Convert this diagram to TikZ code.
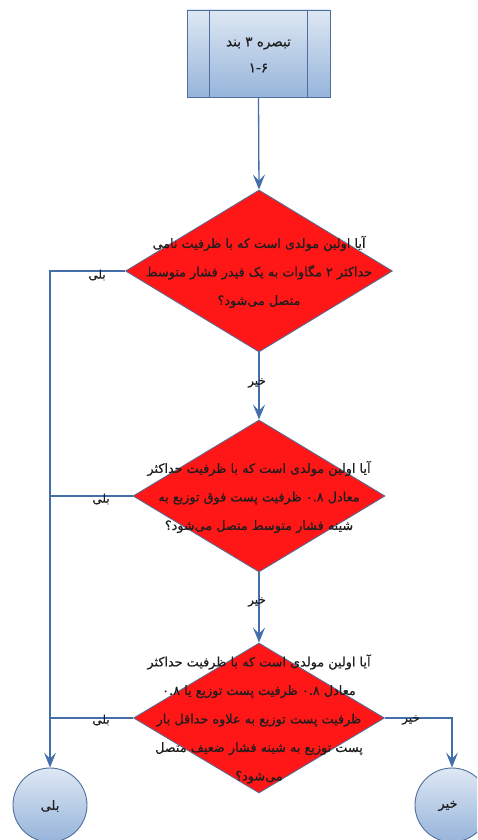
\documentclass[tikz,border=0pt]{standalone}
\usepackage{fontspec}
\usetikzlibrary{shapes.geometric,arrows.meta,calc}
\newfontfamily\arabicfont[Script=Arabic,FakeBold=0.6]{DejaVu Sans}
\TeXXeTstate=1
\newcommand{\persline}[1]{\beginR #1\endR}
\definecolor{connblue}{RGB}{68,110,170}
\definecolor{outlineblue}{RGB}{80,110,155}
\definecolor{diared}{RGB}{255,22,22}
\definecolor{boxtop}{RGB}{222,232,244}
\definecolor{boxbot}{RGB}{150,180,218}
\definecolor{textgray}{RGB}{30,30,30}
\begin{document}
\begin{tikzpicture}[x=1pt,y=-1pt,
  conn/.style={draw=connblue, line width=1.3pt},
  arr/.style={conn, -{Stealth[length=15pt,width=12pt,inset=6pt]}},
  dia/.style={diamond, draw=outlineblue, fill=diared, line width=0.8pt, inner sep=0pt},
  blueshape/.style={draw=outlineblue, line width=0.9pt, top color=boxtop, bottom color=boxbot},
  txt/.style={align=center, text=textgray, font=\arabicfont\fontsize{12.8}{28.5}\selectfont},
  lab/.style={text=textgray, font=\arabicfont\fontsize{12}{13}\selectfont, inner sep=1pt}
]
\useasboundingbox (0,0) rectangle (477,840);
\clip (0,0) rectangle (477,840);

% top box
\node[blueshape, rectangle, minimum width=143pt, minimum height=87pt, inner sep=0pt] (box) at (258.5,53.5) {};
\draw[outlineblue, line width=0.9pt] ($(box.north west)+(23,0)$) -- ($(box.south west)+(23,0)$);
\draw[outlineblue, line width=0.9pt] ($(box.north east)+(-23,0)$) -- ($(box.south east)+(-23,0)$);
\node[txt, font=\arabicfont\fontsize{13.5}{26}\selectfont] (boxt) at (258.5,55) {\persline{تبصره ۳ بند}\\ \beginL\mbox{۱}\mbox{-}\mbox{۶}\endL};

% diamonds
\node[dia, minimum width=267pt, minimum height=162pt] (d1) at (259,271) {};
\node[txt] (t1) at (259,272) {\persline{آیا اولین مولدی است که با ظرفیت نامی}\\
  \persline{حداکثر ۲ مگاوات به یک فیدر فشار متوسط}\\
  \persline{متصل می‌شود؟}};

\node[dia, minimum width=252pt, minimum height=152pt] (d2) at (259,496) {};
\node[txt] (t2) at (259,497) {\persline{آیا اولین مولدی است که با ظرفیت حداکثر}\\
  \persline{معادل ۰.۸ ظرفیت پست فوق توزیع به}\\
  \persline{شینه فشار متوسط متصل می‌شود؟}};

\node[dia, minimum width=251pt, minimum height=150pt] (d3) at (259,718) {};
\node[txt] (t3) at (259,719) {\persline{آیا اولین مولدی است که با ظرفیت حداکثر}\\
  \persline{معادل ۰.۸ ظرفیت پست توزیع یا ۰.۸}\\
  \persline{ظرفیت پست توزیع به علاوه حداقل بار}\\
  \persline{پست توزیع به شینه فشار ضعیف متصل}\\
  \persline{می‌شود؟}};

% terminal circles
\node[blueshape, circle, minimum size=74pt, inner sep=0pt] (c1) at (50,805) {};
\node[lab, font=\arabicfont\fontsize{13}{14}\selectfont] (c1t) at (50,806) {\persline{بلی}};
\node[blueshape, circle, minimum size=74pt, inner sep=0pt] (c2) at (452,805) {};
\node[lab, font=\arabicfont\fontsize{13}{14}\selectfont] (c2t) at (448,806) {\persline{خیر}};

% connectors
\draw[arr] (box.south) -- (d1.north);
\draw[arr] (d1.south) -- (d2.north);
\draw[arr] (d2.south) -- (d3.north);
\draw[arr] (d1.west) -| (c1.north);
\draw[conn] (d2.west) -- (d2.west -| c1.north);
\draw[conn] (d3.west) -- (d3.west -| c1.north);
\draw[arr] (d3.east) -| (c2.north);

% labels
\node[lab] (l1) at (97,275) {\persline{بلی}};
\node[lab] (l2) at (257,383) {\persline{خیر}};
\node[lab] (l3) at (101,499) {\persline{بلی}};
\node[lab] (l4) at (257,602) {\persline{خیر}};
\node[lab] (l5) at (101,720) {\persline{بلی}};
\node[lab] (l6) at (411,720) {\persline{خیر}};
\end{tikzpicture}
\end{document}
